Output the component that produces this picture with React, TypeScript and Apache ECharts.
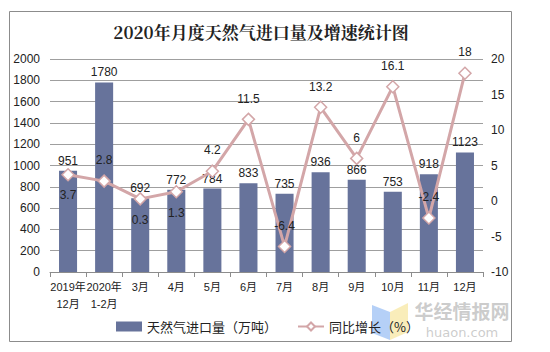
import React, { useEffect, useRef } from "react";
import * as echarts from "echarts";

const categories = ["2019年\n12月", "2020年\n1-2月", "3月", "4月", "5月", "6月", "7月", "8月", "9月", "10月", "11月", "12月"];
const importVolume = [951, 1780, 692, 772, 784, 833, 735, 936, 866, 753, 918, 1123];
const growthRate = [3.7, 2.8, 0.3, 1.3, 4.2, 11.5, -6.4, 13.2, 6, 16.1, -2.4, 18];
const growthLabelBelow = [true, false, true, true, false, false, false, false, false, false, false, false];
const leftTicks = { min: 0, max: 2000, interval: 200 };
const rightTicks = { min: -10, max: 20, interval: 5 };

const BAR = "#67739B";
const LINE = "#D3A6A8";
const FONT = "'Liberation Sans', Arial, 'Noto Sans CJK SC', sans-serif";

export default function App() {
  const ref = useRef<HTMLDivElement>(null);
  useEffect(() => {
    if (!ref.current) return;
    const chart = echarts.init(ref.current, null, { renderer: "svg" });
    chart.setOption({
      animation: false,
      backgroundColor: "#ffffff",
      textStyle: { fontFamily: FONT },
      graphic: [
        {
          type: "rect",
          shape: { x: 9.5, y: 11.5, width: 502, height: 330 },
          style: { fill: "none", stroke: "#8c8c8c", lineWidth: 1 },
          silent: true,
        },
        {
          type: "text",
          x: 261,
          y: 31,
          style: {
            text: "2020年月度天然气进口量及增速统计图",
            font: "bold 17px 'Noto Serif CJK SC', 'Noto Sans CJK SC', serif",
            fill: "#222",
            textAlign: "center",
            textVerticalAlign: "middle",
          },
        },
        {
          type: "polygon",
          shape: { points: [[372, 305], [390, 312], [390, 340], [372, 333]] },
          style: { fill: "rgba(120,170,240,0.55)" },
          silent: true,
        },
        {
          type: "polygon",
          shape: { points: [[390, 312], [408, 303], [408, 332], [390, 340]] },
          style: { fill: "rgba(245,225,140,0.6)" },
          silent: true,
        },
        {
          type: "text",
          x: 462,
          y: 310,
          style: {
            text: "华经情报网",
            font: "bold 19px 'Noto Sans CJK SC', sans-serif",
            fill: "rgba(170,170,170,0.6)",
            textAlign: "center",
            textVerticalAlign: "middle",
          },
        },
        {
          type: "text",
          x: 462,
          y: 332,
          style: {
            text: "huaon.com",
            font: "13px 'DejaVu Sans', sans-serif",
            fill: "rgba(170,170,170,0.6)",
            textAlign: "center",
            textVerticalAlign: "middle",
          },
        },
      ],
      legend: {
        left: 111,
        top: 315,
        itemGap: 20,
        itemWidth: 26,
        itemHeight: 10,
        textStyle: { fontSize: 13, color: "#222", fontFamily: "'Noto Sans CJK SC', sans-serif" },
        data: [
          { name: "天然气进口量（万吨）", icon: "rect", itemStyle: { color: BAR } },
          { name: "同比增长（%）" },
        ],
      },
      grid: { left: 50, right: 67, top: 59, bottom: 80, containLabel: false },
      xAxis: {
        type: "category",
        data: categories,
        boundaryGap: true,
        axisLine: { show: true, lineStyle: { color: "#8c8c8c", width: 1 } },
        axisTick: { show: true, alignWithLabel: false, length: 5, lineStyle: { color: "#8c8c8c" } },
        axisLabel: { color: "#222", fontSize: 11, lineHeight: 17, interval: 0, margin: 6 },
      },
      yAxis: [
        {
          type: "value",
          min: leftTicks.min,
          max: leftTicks.max,
          interval: leftTicks.interval,
          axisLine: { show: false },
          axisTick: { show: false },
          splitLine: { lineStyle: { color: "#9f9f9f", width: 1 } },
          axisLabel: { color: "#222", fontSize: 12, margin: 10, formatter: (v: number) => String(v) },
        },
        {
          type: "value",
          min: rightTicks.min,
          max: rightTicks.max,
          interval: rightTicks.interval,
          axisLine: { show: false },
          axisTick: { show: false },
          splitLine: { show: false },
          axisLabel: { color: "#222", fontSize: 12, margin: 8, formatter: (v: number) => String(v) },
        },
      ],
      series: [
        {
          name: "天然气进口量（万吨）",
          type: "bar",
          data: importVolume,
          barWidth: "50%",
          itemStyle: { color: BAR },
          label: { show: true, position: "top", color: "#222", fontSize: 12, distance: 4 },
          z: 2,
        },
        {
          name: "同比增长（%）",
          type: "line",
          yAxisIndex: 1,
          data: growthRate.map((v, i) => ({
            value: v,
            label: { position: growthLabelBelow[i] ? "bottom" : "top" },
          })),
          symbol: "diamond",
          symbolSize: 12,
          lineStyle: { color: LINE, width: 3 },
          itemStyle: { color: "#ffffff", borderColor: LINE, borderWidth: 1.5 },
          label: { show: true, color: "#222", fontSize: 12, distance: 8 },
          z: 3,
        },
      ],
    });
    return () => chart.dispose();
  }, []);
  return <div ref={ref} style={{ position: "fixed", left: 0, top: 0, width: 550, height: 352 }} />;
}
